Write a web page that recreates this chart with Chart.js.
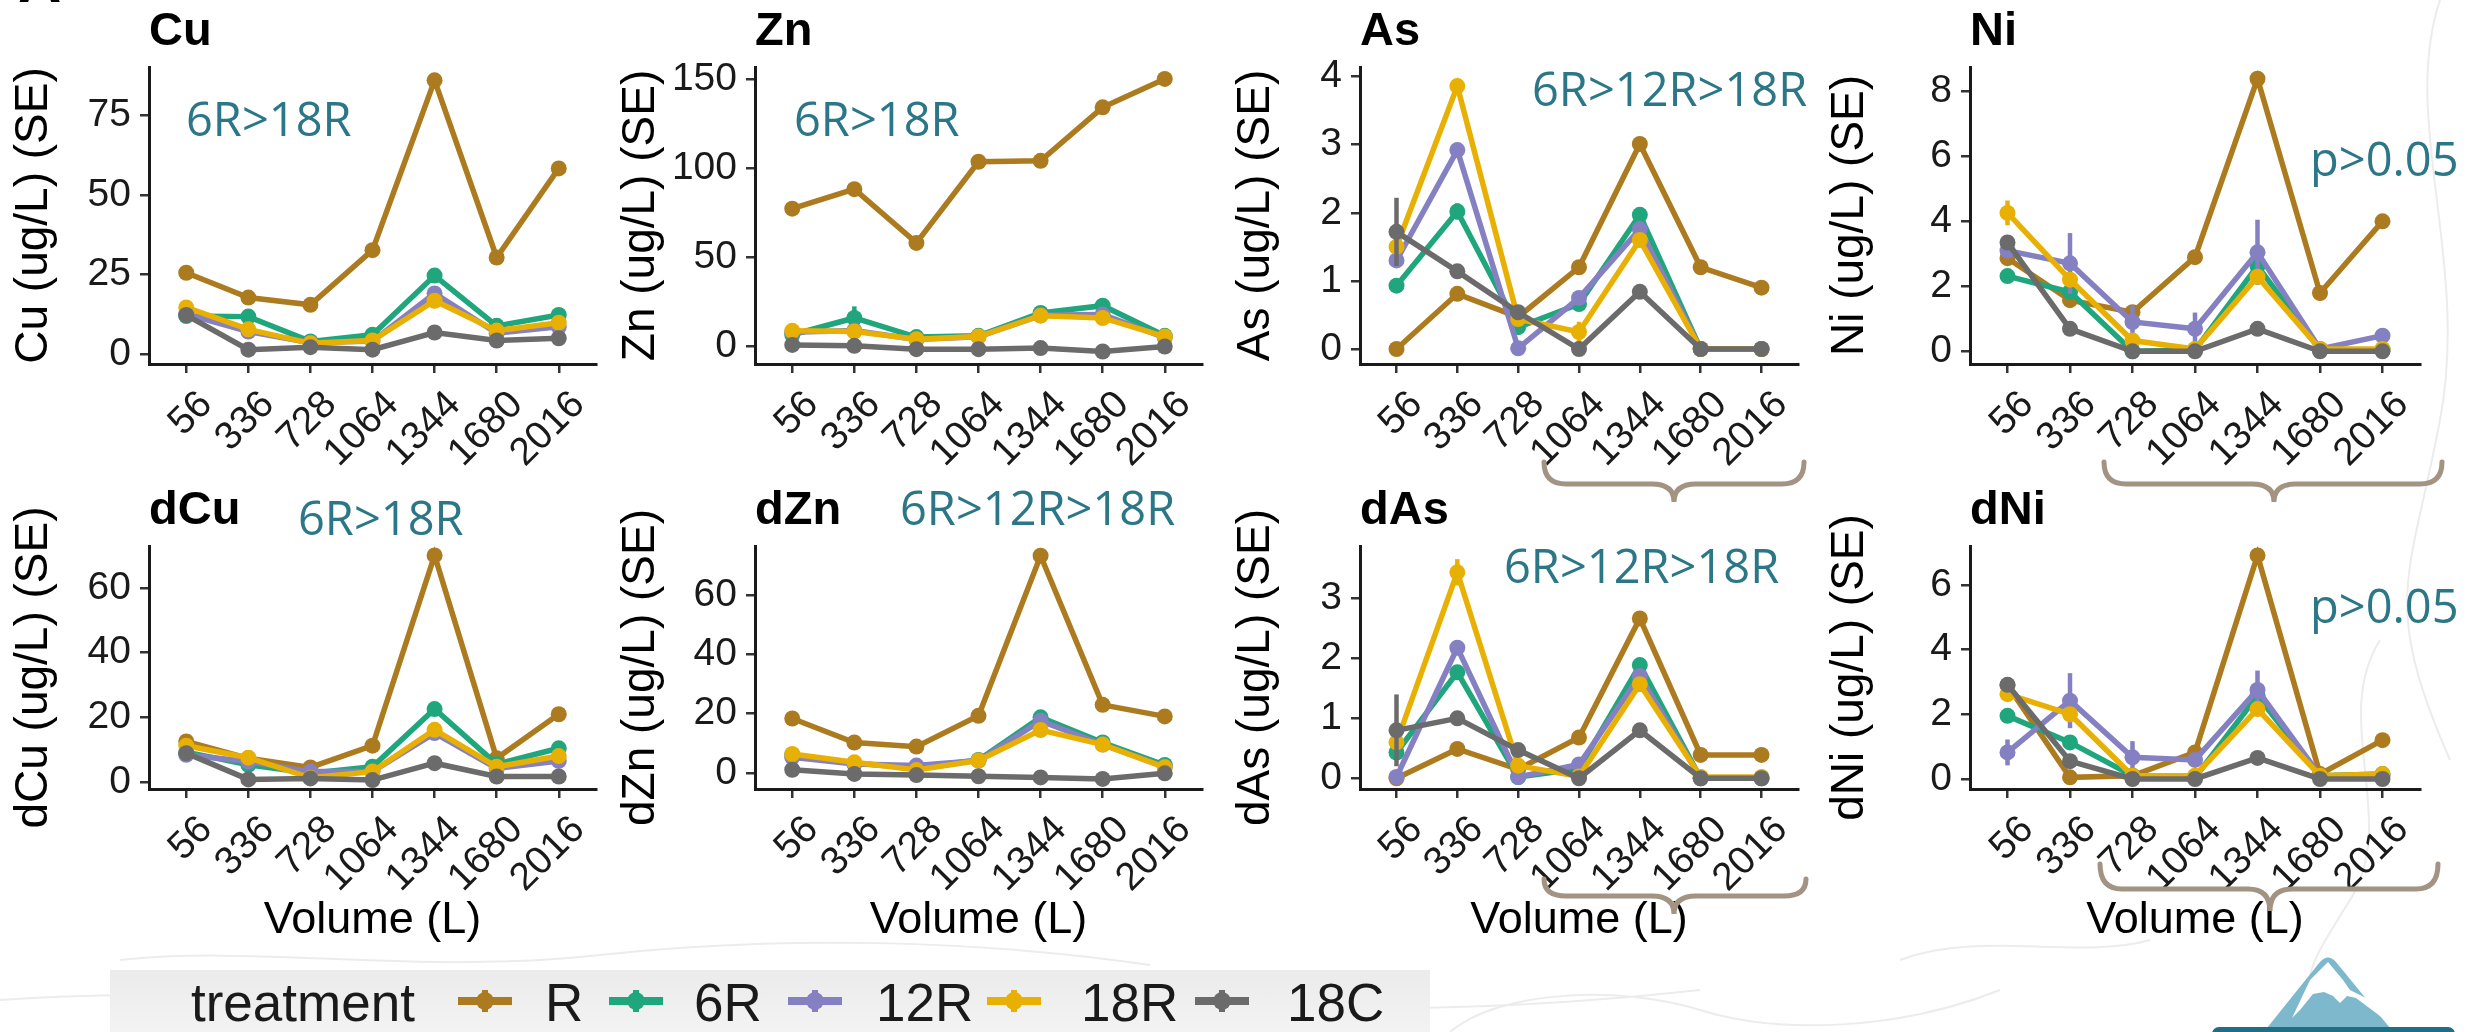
<!DOCTYPE html>
<html>
<head>
<meta charset="utf-8">
<script src="https://cdn.jsdelivr.net/npm/chart.js@4.4.1/dist/chart.umd.min.js"></script>
<style>
  html, body { margin: 0; padding: 0; background: #fff; }
  body { width: 2476px; height: 1032px; position: relative; overflow: hidden;
         font-family: 'Liberation Sans', Arial, sans-serif; }
  canvas { position: absolute; }
  .txt { position: absolute; line-height: 1; white-space: nowrap; color: #000; }
  .ttl { font-weight: bold; font-size: 47px; }
  .note { font-family: 'Open Sans', sans-serif; font-size: 47px; color: #2C7787; }
  #legend { position: absolute; left: 110px; top: 970px; width: 1320px; height: 70px;
            background: linear-gradient(#ebebeb, #f4f4f4); }
  .key { position: absolute; width: 54px; height: 22px; }
  .key .h { position: absolute; left: 0; top: 7px; width: 54px; height: 8px; }
  .key .v { position: absolute; left: 24px; top: 0; width: 6px; height: 22px; }
  .key .d { position: absolute; left: 18px; top: 2px; width: 18px; height: 18px; border-radius: 50%; }
  #topo { position: absolute; left: 0; top: 0; }
  #deco { position: absolute; left: 0; top: 0; z-index: 5; }
</style>
</head>
<body>
<svg id="topo" width="2476" height="1032"></svg>
<svg id="deco" width="2476" height="1032"></svg>
<div id="legend"></div>
<script>
const volumes = ['56', '336', '728', '1064', '1344', '1680', '2016'];
const treatments = ['R', '6R', '12R', '18R', '18C'];
const colors = ['#AD7B1F', '#1FA67D', '#8580C2', '#E9B004', '#6B6B6B'];

// total metals
const cuR   = [25.5, 17.7, 15.4, 32.6, 86.0, 30.3, 58.3];
const cu6R  = [11.9, 11.7, 3.9, 6.0, 24.6, 8.8, 12.2];
const cu12R = [12.5, 7.0, 3.5, 4.0, 19.0, 6.5, 8.5];
const cu18R = [14.6, 7.7, 3.3, 4.2, 16.7, 7.3, 9.8];
const cu18C = [12.2, 1.3, 2.1, 1.3, 6.7, 4.2, 4.9];

const znR   = [77.3, 88.2, 58.1, 103.6, 104.1, 134.1, 150.0];
const zn6R  = [6.6, 16.0, 5.3, 6.0, 18.8, 22.9, 6.0];
const zn12R = [8.0, 9.0, 4.0, 5.5, 17.5, 18.0, 5.0];
const zn18R = [8.8, 8.4, 4.1, 5.6, 17.3, 16.0, 5.6];
const zn18C = [0.9, 0.4, -1.5, -1.5, -0.9, -2.8, 0.0];

const asR   = [0.0, 0.81, 0.47, 1.2, 3.01, 1.2, 0.9];
const as6R  = [0.93, 2.02, 0.32, 0.66, 1.97, 0.0, 0.0];
const as12R = [1.3, 2.92, 0.01, 0.75, 1.76, 0.0, 0.0];
const as18R = [1.5, 3.86, 0.44, 0.25, 1.6, 0.0, 0.0];
const as18C = [1.72, 1.14, 0.54, 0.0, 0.84, 0.0, 0.0];

const niR   = [2.86, 1.57, 1.2, 2.89, 8.37, 1.79, 3.99];
const ni6R  = [2.31, 1.82, 0.0, 0.04, 2.62, 0.04, 0.05];
const ni12R = [3.09, 2.7, 0.9, 0.69, 3.04, 0.07, 0.48];
const ni18R = [4.25, 2.2, 0.33, 0.07, 2.29, 0.07, 0.07];
const ni18C = [3.34, 0.69, 0.0, 0.0, 0.69, 0.0, 0.0];

// dissolved metals
const dcuR   = [12.6, 7.4, 4.6, 11.3, 70.0, 7.4, 21.0];
const dcu6R  = [9.3, 5.4, 2.8, 4.8, 22.6, 5.6, 10.5];
const dcu12R = [8.5, 6.4, 3.3, 3.3, 15.2, 4.3, 6.6];
const dcu18R = [11.3, 7.6, 1.4, 3.3, 16.2, 4.8, 8.1];
const dcu18C = [9.0, 0.9, 1.2, 0.7, 5.9, 1.8, 1.8];

const dznR   = [18.4, 10.3, 8.9, 19.3, 73.3, 23.0, 19.1];
const dzn6R  = [6.1, 3.3, 1.7, 4.4, 18.8, 10.3, 2.7];
const dzn12R = [5.3, 3.0, 2.5, 4.2, 17.6, 9.6, 2.1];
const dzn18R = [6.4, 3.6, 1.0, 4.2, 14.5, 9.6, 1.9];
const dzn18C = [1.1, -0.3, -0.7, -1.1, -1.5, -2.0, -0.1];

const dasR   = [0.0, 0.49, 0.15, 0.68, 2.67, 0.39, 0.39];
const das6R  = [0.43, 1.77, 0.02, 0.16, 1.89, 0.0, 0.0];
const das12R = [0.02, 2.18, 0.02, 0.23, 1.71, 0.0, 0.0];
const das18R = [0.6, 3.44, 0.21, 0.03, 1.57, 0.02, 0.02];
const das18C = [0.8, 1.0, 0.47, 0.0, 0.8, 0.0, 0.0];

const dniR   = [2.9, 0.05, 0.1, 0.82, 6.91, 0.15, 1.2];
const dni6R  = [1.95, 1.13, 0.1, 0.05, 2.57, 0.1, 0.15];
const dni12R = [0.82, 2.42, 0.67, 0.59, 2.75, 0.1, 0.1];
const dni18R = [2.62, 2.0, 0.1, 0.1, 2.16, 0.1, 0.15];
const dni18C = [2.91, 0.55, 0.0, 0.0, 0.65, 0.0, 0.0];

// standard errors (only the visible ones)
const cuErr6R   = [0, 2.0, 0, 0, 1.5, 0, 0];
const znErr6R   = [0, 6.5, 0, 0, 0, 1.0, 0];
const asErr6R   = [0.05, 0.12, 0, 0, 0.05, 0, 0];
const asErr18R  = [0.1, 0.07, 0, 0.15, 0, 0, 0];
const asErr18C  = [0.5, 0, 0, 0, 0, 0, 0];
const niErr6R   = [0.1, 0.1, 0, 0, 0.1, 0, 0];
const niErr12R  = [0.15, 0.93, 0.5, 0.5, 1.0, 0, 0.2];
const niErr18R  = [0.38, 0, 0, 0, 0, 0, 0];
const dasErr6R  = [0.1, 0.12, 0, 0, 0.05, 0, 0];
const dasErr12R = [0.05, 0.12, 0, 0, 0, 0, 0];
const dasErr18R = [0.1, 0.22, 0, 0, 0, 0, 0];
const dasErr18C = [0.6, 0, 0, 0, 0, 0, 0];
const dniErr6R  = [0.15, 0.1, 0, 0, 0.1, 0, 0];
const dniErr12R = [0.4, 0.85, 0.5, 0.1, 0.6, 0, 0];
const dniErr18R = [0.2, 0, 0, 0, 0, 0, 0];

const cuTicks = [0, 25, 50, 75];
const znTicks = [0, 50, 100, 150];
const asTicks = [0, 1, 2, 3, 4];
const niTicks = [0, 2, 4, 6, 8];
const dcuTicks = [0, 20, 40, 60];
const dznTicks = [0, 20, 40, 60];
const dasTicks = [0, 1, 2, 3];
const dniTicks = [0, 2, 4, 6];

const FONT = "'Liberation Sans', Arial, sans-serif";

// page layout
const cols = [
  { axis: 149, end: 596, label: 34 },
  { axis: 755, end: 1202, label: 641 },
  { axis: 1360, end: 1798, label: 1256 },
  { axis: 1970, end: 2420, label: 1850 }
];
const rows = [
  { top: 0, plot: 67, axis: 364, bottom: 474, titleBase: 45 },
  { top: 474, plot: 546, axis: 789, bottom: 960, titleBase: 524 }
];

const panels = [
  { title: 'Cu', yTitle: 'Cu (ug/L) (SE)', series: [cuR, cu6R, cu12R, cu18R, cu18C],
    errors: [null, cuErr6R, null, null, null], ticks: cuTicks, min: -3.2, max: 90.2,
    col: 0, row: 0, note: '6R>18R', noteX: 186, noteY: 137 },
  { title: 'Zn', yTitle: 'Zn (ug/L) (SE)', series: [znR, zn6R, zn12R, zn18R, zn18C],
    errors: [null, znErr6R, null, null, null], ticks: znTicks, min: -9.8, max: 156.7,
    col: 1, row: 0, note: '6R>18R', noteX: 794, noteY: 137 },
  { title: 'As', yTitle: 'As (ug/L) (SE)', series: [asR, as6R, as12R, as18R, as18C],
    errors: [null, asErr6R, null, asErr18R, asErr18C], ticks: asTicks, min: -0.22, max: 4.14,
    col: 2, row: 0, note: '6R>12R>18R', noteX: 1532, noteY: 107 },
  { title: 'Ni', yTitle: 'Ni (ug/L) (SE)', series: [niR, ni6R, ni12R, ni18R, ni18C],
    errors: [null, niErr6R, niErr12R, niErr18R, null], ticks: niTicks, min: -0.39, max: 8.73,
    col: 3, row: 0, note: 'p>0.05', noteX: 2310, noteY: 177 },
  { title: 'dCu', yTitle: 'dCu (ug/L) (SE)', series: [dcuR, dcu6R, dcu12R, dcu18R, dcu18C],
    errors: [null, null, null, null, null], ticks: dcuTicks, min: -2.06, max: 72.9,
    col: 0, row: 1, note: '6R>18R', noteX: 298, noteY: 536 },
  { title: 'dZn', yTitle: 'dZn (ug/L) (SE)', series: [dznR, dzn6R, dzn12R, dzn18R, dzn18C],
    errors: [null, null, null, null, null], ticks: dznTicks, min: -5.4, max: 76.6,
    col: 1, row: 1, note: '6R>12R>18R', noteX: 900, noteY: 526 },
  { title: 'dAs', yTitle: 'dAs (ug/L) (SE)', series: [dasR, das6R, das12R, das18R, das18C],
    errors: [null, dasErr6R, dasErr12R, dasErr18R, dasErr18C], ticks: dasTicks, min: -0.18, max: 3.88,
    col: 2, row: 1, note: '6R>12R>18R', noteX: 1504, noteY: 584 },
  { title: 'dNi', yTitle: 'dNi (ug/L) (SE)', series: [dniR, dni6R, dni12R, dni18R, dni18C],
    errors: [null, dniErr6R, dniErr12R, dniErr18R, null], ticks: dniTicks, min: -0.31, max: 7.2,
    col: 3, row: 1, note: 'p>0.05', noteX: 2310, noteY: 624 }
];

// vertical SE bars, drawn right after their own line
const errorBars = {
  id: 'errorBars',
  afterDatasetDraw(chart, args) {
    const ds = chart.data.datasets[args.index];
    if (!ds.errors) return;
    const ctx = chart.ctx, x = chart.scales.x, y = chart.scales.y;
    ctx.save();
    ctx.strokeStyle = ds.borderColor;
    ctx.lineWidth = 4.5;
    ds.errors.forEach((e, i) => {
      if (!e) return;
      const px = x.getPixelForValue(i);
      const v = ds.data[i].y;
      ctx.beginPath();
      ctx.moveTo(px, y.getPixelForValue(v - e));
      ctx.lineTo(px, y.getPixelForValue(v + e));
      ctx.stroke();
    });
    ctx.restore();
  }
};

function addText(cls, text, x, baseline, size, ascent) {
  const el = document.createElement('div');
  el.className = 'txt ' + cls;
  el.textContent = text;
  el.style.left = x + 'px';
  el.style.top = (baseline - ascent * size) + 'px';
  document.body.appendChild(el);
  return el;
}

function makePanel(p) {
  const c = cols[p.col], r = rows[p.row];
  const left = Math.round(c.label - 26);
  const right = c.end + 24;
  const canvas = document.createElement('canvas');
  canvas.width = right - left;
  canvas.height = r.bottom - r.top;
  canvas.style.left = left + 'px';
  canvas.style.top = r.top + 'px';
  document.body.appendChild(canvas);

  const axisLine = { display: true, color: '#1a1a1a', width: 3 };
  const tickMarks = { display: true, drawOnChartArea: false, drawTicks: true, tickLength: 9,
                      color: '#333', lineWidth: 2.5 };

  new Chart(canvas.getContext('2d'), {
    type: 'line',
    data: {
      datasets: treatments.map((t, k) => ({
        label: t,
        data: p.series[k].map((v, i) => ({ x: i, y: v })),
        errors: p.errors[k],
        borderColor: colors[k],
        backgroundColor: colors[k],
        borderWidth: 5.5,
        pointRadius: 8,
        pointBorderWidth: 0,
        pointHoverRadius: 8,
        order: 4 - k,
        tension: 0
      }))
    },
    options: {
      responsive: false,
      animation: false,
      events: [],
      layout: { padding: { top: r.plot - r.top, right: right - c.end, left: 0, bottom: 0 } },
      plugins: { legend: { display: false }, tooltip: { enabled: false } },
      scales: {
        x: {
          type: 'linear',
          min: -0.6,
          max: volumes.length - 0.4,
          afterBuildTicks: s => { s.ticks = volumes.map((_, i) => ({ value: i })); },
          afterFit: s => { s.height = r.bottom - r.axis; },
          ticks: {
            callback: v => volumes[v],
            autoSkip: false, maxRotation: 45, minRotation: 45,
            font: { size: 39, family: FONT }, color: '#1a1a1a',
            padding: 9, labelOffset: 20
          },
          grid: tickMarks,
          border: axisLine,
          title: p.row === 1
            ? { display: true, text: 'Volume (L)', color: '#000',
                font: { size: 45, family: FONT, lineHeight: 1.2 }, padding: { top: 0, bottom: 12 } }
            : { display: false }
        },
        y: {
          min: p.min,
          max: p.max,
          afterBuildTicks: s => { s.ticks = p.ticks.map(v => ({ value: v })); },
          afterFit: s => { s.width = c.axis - left; },
          ticks: { font: { size: 39, family: FONT }, color: '#1a1a1a', padding: 9 },
          grid: tickMarks,
          border: axisLine,
          title: { display: true, text: p.yTitle, color: '#000', padding: 0,
                   font: { size: 46, family: FONT, lineHeight: 1.15 } }
        }
      }
    },
    plugins: [errorBars]
  });

  addText('ttl', p.title, c.axis, r.titleBase, 47, 0.8465);
  addText('note', p.note, p.noteX, p.noteY, 47, 0.888);
}

panels.forEach(makePanel);

// cut-off panel letter in the corner
const letter = addText('ttl', 'A', 18, 3, 60, 0.8465);
letter.style.fontSize = '60px';

// legend
const legend = document.getElementById('legend');
const legendKeyX = [485, 636, 815, 1014, 1222];
const legendTextX = [545, 694, 876, 1081, 1287];
function legendText(text, x) {
  const el = addText('', text, x, 1021, 53, 0.8465);
  el.style.fontSize = '53px';
  el.style.color = '#1a1a1a';
}
legendText('treatment', 191);
treatments.forEach((t, k) => {
  const key = document.createElement('div');
  key.className = 'key';
  key.style.left = (legendKeyX[k] - 27 - 110) + 'px';
  key.style.top = (1001 - 11 - 970) + 'px';
  ['h', 'v', 'd'].forEach(part => {
    const s = document.createElement('div');
    s.className = part;
    s.style.background = colors[k];
    key.appendChild(s);
  });
  legend.appendChild(key);
  legendText(t, legendTextX[k]);
});

// braces and logo
const NS = 'http://www.w3.org/2000/svg';
const svg = document.getElementById('deco');
const topo = document.getElementById('topo');
function shape(parent, tag, attrs) {
  const el = document.createElementNS(NS, tag);
  Object.keys(attrs).forEach(a => el.setAttribute(a, attrs[a]));
  parent.appendChild(el);
}
function brace(x1, x2, yEnd, yLine, xTip, yTip) {
  const r = 22;
  const d = `M${x1} ${yEnd} Q${x1} ${yLine} ${x1 + r} ${yLine} L${xTip - r} ${yLine} ` +
            `Q${xTip} ${yLine} ${xTip} ${yTip} Q${xTip} ${yLine} ${xTip + r} ${yLine} ` +
            `L${x2 - r} ${yLine} Q${x2} ${yLine} ${x2} ${yEnd}`;
  shape(svg, 'path', { d, fill: 'none', stroke: '#A29383', 'stroke-width': 5, 'stroke-linecap': 'round' });
}
brace(1544, 1804, 462, 484, 1674, 502);
brace(2104, 2442, 462, 484, 2274, 502);
brace(1544, 1806, 879, 896, 1674, 914);
brace(2100, 2438, 864, 889, 2270, 911);

// faint contour lines of the slide background
[
  'M0 1000 C200 985 380 1010 560 990 S900 975 1100 995 S1500 1012 1700 990',
  'M120 960 C260 945 420 975 600 955 S980 940 1150 965',
  'M1450 1032 C1500 990 1620 985 1700 1010 S1900 1030 2000 990',
  'M2440 0 C2400 120 2470 260 2440 420 S2380 600 2450 760',
  'M2380 640 C2330 720 2400 820 2350 900 S2300 980 2330 1032',
  'M1900 960 C1980 930 2080 960 2150 940'
].forEach(d => shape(topo, 'path', { d, fill: 'none', stroke: '#ececec', 'stroke-width': 2 }));

shape(svg, 'path', { d: 'M2267 1028 L2320 962 Q2328 953 2336 962 L2390 1028 Z', fill: '#7DB8CC' });
shape(svg, 'path', { d: 'M2292 1018 L2310 980 L2328 962 L2343 980 L2350 990 L2372 1001 L2388 1022 ' +
                   'L2368 1007 L2356 998 L2347 996 L2340 1003 L2333 996 L2324 992 L2313 994 L2300 1010 Z',
                fill: '#ffffff' });
shape(svg, 'rect', { x: 2212, y: 1027, width: 243, height: 14, rx: 7, fill: '#1F6E86' });
</script>
</body>
</html>
